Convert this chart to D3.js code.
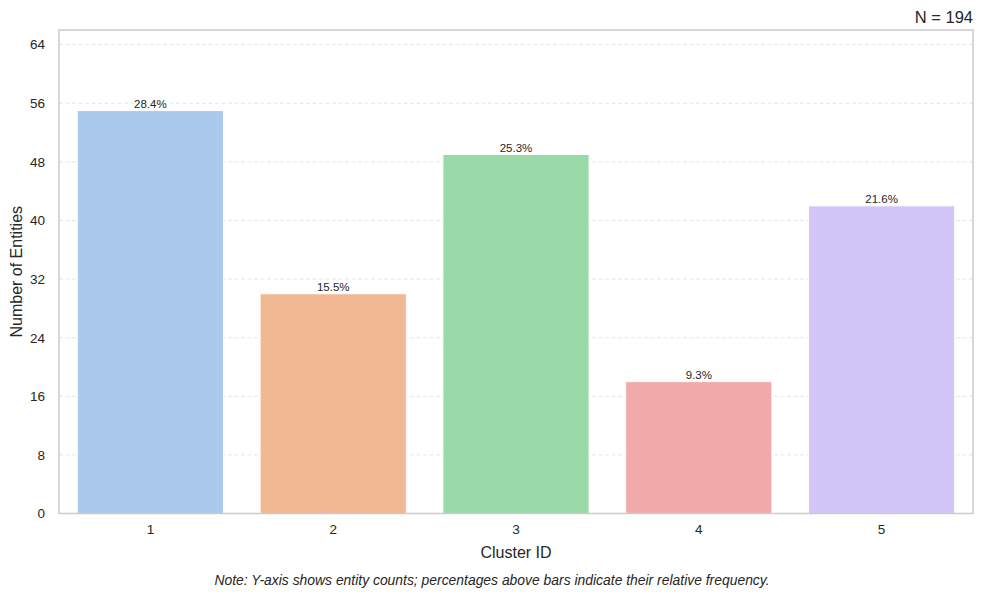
<!DOCTYPE html>
<meta charset="utf-8">
<style>
    body { margin: 0; background: #fff; }
    text { font-family: "Liberation Sans", Arial, sans-serif; fill: #262626; }
    .grid line { stroke: #e6e6e6; stroke-dasharray: 4,2.5; stroke-width: 1; }
    .axis text { font-size: 13.5px; }
</style>
<svg width="984" height="599"></svg>
<script src="https://d3js.org/d3.v7.min.js"></script>
<script>
    var clusters = ["1", "2", "3", "4", "5"];
    var counts = [55, 30, 49, 18, 42];
    var percents = ["28.4%", "15.5%", "25.3%", "9.3%", "21.6%"];
    var yTicks = [0, 8, 16, 24, 32, 40, 48, 56, 64];
    var colors = ["#abc9ec", "#f0b893", "#99d9a7", "#f1aaa9", "#d2c5f7"];
    var total = 194;

    var svg = d3.select("svg"),
        margin = {top: 30, right: 11, bottom: 85.5, left: 59},
        width = +svg.attr("width") - margin.left - margin.right,
        height = +svg.attr("height") - margin.top - margin.bottom,
        g = svg.append("g").attr("transform", "translate(" + margin.left + "," + margin.top + ")");

    var x = d3.scaleBand()
        .domain(clusters)
        .range([0, width])
        .paddingInner(0.2)
        .paddingOuter(0.1);

    var y = d3.scaleLinear()
        .domain([0, d3.max(counts) * 1.2])
        .range([height, 0]);

    // grid
    g.append("g")
        .attr("class", "grid")
        .selectAll("line")
        .data(yTicks.filter(function(d) { return d > 0; }))
        .enter().append("line")
        .attr("x1", 0)
        .attr("x2", width)
        .attr("y1", function(d) { return y(d); })
        .attr("y2", function(d) { return y(d); });

    var data = clusters.map(function(c, i) {
        return {cluster: c, count: counts[i], pct: percents[i], color: colors[i]};
    });

    g.selectAll(".bar")
        .data(data)
        .enter().append("rect")
        .attr("class", "bar")
        .attr("x", function(d) { return x(d.cluster); })
        .attr("width", x.bandwidth())
        .attr("y", function(d) { return y(d.count); })
        .attr("height", function(d) { return height - y(d.count); })
        .attr("fill", function(d) { return d.color; })
        .attr("stroke", "#fff")
        .attr("stroke-width", 1);

    g.selectAll(".pct")
        .data(data)
        .enter().append("text")
        .attr("class", "pct")
        .attr("x", function(d) { return x(d.cluster) + x.bandwidth() / 2; })
        .attr("y", function(d) { return y(d.count) - 3; })
        .attr("text-anchor", "middle")
        .style("font-size", "11.5px")
        .text(function(d) { return d.pct; });

    // axes
    var yAxis = g.append("g")
        .attr("class", "axis")
        .call(d3.axisLeft(y).tickValues(yTicks).tickSize(0).tickPadding(14));
    yAxis.select(".domain").remove();

    var xAxis = g.append("g")
        .attr("class", "axis")
        .attr("transform", "translate(0," + height + ")")
        .call(d3.axisBottom(x).tickSize(0).tickPadding(11));
    xAxis.select(".domain").remove();

    // frame
    g.append("rect")
        .attr("width", width)
        .attr("height", height)
        .attr("fill", "none")
        .attr("stroke", "#cccccc")
        .attr("stroke-width", 1.5);

    svg.append("text")
        .attr("x", margin.left + width / 2)
        .attr("y", margin.top + height + 44)
        .attr("text-anchor", "middle")
        .style("font-size", "16px")
        .text("Cluster ID");

    svg.append("text")
        .attr("transform", "translate(22," + (margin.top + height / 2) + ") rotate(-90)")
        .attr("text-anchor", "middle")
        .style("font-size", "16px")
        .text("Number of Entities");

    svg.append("text")
        .attr("x", margin.left + width)
        .attr("y", 23)
        .attr("text-anchor", "end")
        .style("font-size", "16.5px")
        .text("N = " + total);

    svg.append("text")
        .attr("x", 492)
        .attr("y", 585)
        .attr("text-anchor", "middle")
        .style("font-size", "13.9px")
        .style("font-style", "italic")
        .text("Note: Y-axis shows entity counts; percentages above bars indicate their relative frequency.");
</script>
